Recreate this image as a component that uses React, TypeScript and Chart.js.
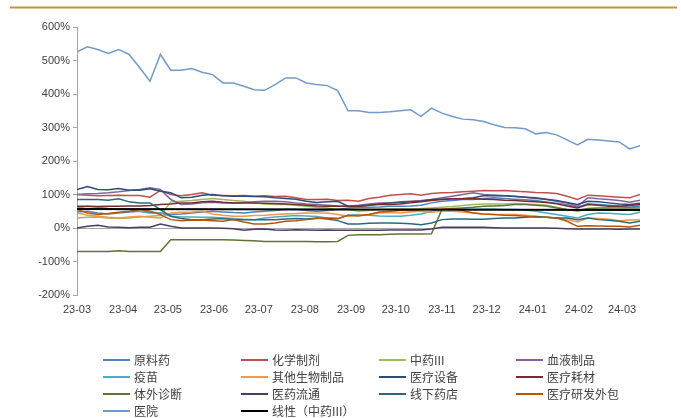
import React, { useEffect, useRef } from 'react';
import { Chart, registerables } from 'chart.js';

Chart.register(...registerables);

// 月份刻度（距 23-03 首日的天数）
const monthDays = [0, 31, 61, 92, 122, 153, 184, 214, 245, 275, 306, 337, 366];
const monthLabels = ['23-03', '23-04', '23-05', '23-06', '23-07', '23-08', '23-09', '23-10', '23-11', '23-12', '24-01', '24-02', '24-03'];

// 周度数据，55 个点
const yuanliaoyao = [48, 50, 45, 42, 45, 48, 50, 45, 45, 40, 42, 45, 48, 50, 48, 46, 45, 48, 50, 52, 55, 55, 52, 50, 52, 55, 60, 62, 62, 63, 65, 65, 66, 68, 75, 80, 82, 85, 85, 88, 90, 88, 86, 84, 82, 78, 74, 70, 62, 72, 70, 68, 66, 62, 66];
const huaxuezhiji = [100, 98, 96, 97, 98, 97, 97, 92, 112, 100, 96, 100, 105, 98, 97, 96, 97, 95, 96, 94, 95, 90, 85, 85, 86, 82, 83, 80, 88, 92, 98, 100, 102, 98, 103, 105, 106, 108, 110, 112, 111, 112, 110, 108, 106, 105, 103, 95, 85, 98, 96, 94, 92, 90, 100];
const zhongyao = [30, 32, 33, 30, 28, 30, 33, 35, 37, 78, 80, 82, 85, 88, 85, 82, 80, 75, 72, 70, 70, 68, 65, 62, 60, 55, 55, 50, 52, 55, 56, 57, 57, 58, 60, 62, 64, 67, 70, 72, 72, 72, 73, 72, 70, 68, 62, 55, 50, 56, 55, 55, 54, 53, 52];
const xueye = [100, 102, 103, 105, 108, 112, 115, 120, 115, 85, 70, 72, 75, 77, 75, 75, 76, 78, 80, 80, 78, 75, 72, 70, 68, 66, 65, 68, 72, 75, 75, 78, 80, 82, 85, 90, 95, 100, 105, 100, 98, 96, 95, 92, 88, 85, 80, 75, 65, 90, 87, 85, 82, 77, 83];
const yimiao = [60, 65, 62, 58, 55, 55, 50, 48, 45, 35, 33, 33, 32, 32, 30, 28, 26, 25, 30, 33, 35, 37, 36, 34, 30, 28, 38, 40, 38, 36, 35, 35, 38, 42, 50, 55, 55, 56, 56, 57, 57, 55, 55, 54, 50, 45, 40, 35, 30, 40, 45, 44, 42, 40, 47];
const qitashengwu = [45, 38, 35, 32, 30, 33, 35, 32, 30, 45, 47, 48, 50, 42, 38, 35, 35, 37, 38, 40, 42, 43, 45, 45, 45, 40, 35, 38, 40, 45, 46, 45, 48, 50, 47, 50, 50, 48, 45, 42, 40, 40, 40, 38, 35, 32, 30, 25, 18, 30, 28, 26, 22, 24, 25];
const yiliaoshebei = [115, 124, 115, 114, 118, 113, 113, 117, 110, 105, 90, 92, 98, 100, 96, 95, 95, 94, 93, 90, 88, 86, 80, 76, 78, 80, 65, 65, 68, 72, 75, 76, 78, 80, 85, 86, 87, 88, 90, 96, 97, 96, 94, 92, 90, 86, 82, 76, 70, 80, 78, 75, 72, 70, 74];
const yiliaohaocai = [65, 65, 64, 65, 65, 66, 66, 67, 70, 72, 75, 75, 78, 80, 77, 75, 75, 75, 74, 73, 72, 70, 68, 66, 65, 65, 65, 65, 68, 70, 70, 72, 75, 78, 82, 85, 87, 87, 87, 86, 85, 83, 82, 80, 78, 76, 72, 66, 60, 70, 68, 65, 65, 67, 70];
const tiwaizhenduan = [-70, -70, -70, -70, -68, -70, -70, -70, -70, -35, -35, -35, -35, -35, -35, -36, -37, -38, -40, -40, -40, -40, -40, -41, -41, -40, -22, -20, -20, -20, -19, -18, -18, -18, -17, 55, 58, 60, 62, 65, 66, 67, 70, 70, 68, 66, 60, 55, 52, 58, 60, 60, 60, 60, 60];
const yiyaoliutong = [0, 5, 8, 3, 2, 1, 2, 2, 12, 5, 0, 0, 0, 0, -1, -2, -7, -4, -3, -6, -7, -5, -6, -7, -6, -7, -7, -7, -7, -7, -6, -6, -6, -6, -3, 2, 2, 2, 2, 2, 1, 0, 0, 0, 0, 0, -1, -2, -3, -3, -3, -3, -4, -3, -3];
const xianxiayaodian = [85, 85, 85, 83, 87, 78, 75, 75, 55, 35, 28, 25, 25, 27, 28, 25, 25, 25, 25, 25, 27, 28, 27, 30, 27, 22, 12, 12, 14, 15, 15, 14, 13, 10, 15, 25, 27, 27, 26, 26, 28, 30, 30, 32, 34, 32, 30, 30, 25, 30, 25, 23, 20, 15, 20];
const yanfawaibao = [55, 45, 40, 43, 47, 50, 55, 50, 40, 25, 22, 23, 24, 22, 20, 25, 18, 12, 12, 15, 20, 22, 25, 28, 30, 28, 38, 36, 40, 48, 50, 52, 52, 55, 56, 56, 57, 52, 45, 42, 40, 38, 37, 35, 32, 32, 30, 20, 5, 7, 6, 5, 5, 3, 8];
const yiyuan = [526, 541, 533, 521, 533, 518, 479, 438, 518, 471, 471, 476, 465, 458, 433, 433, 423, 413, 411, 428, 448, 448, 433, 428, 425, 410, 350, 350, 345, 345, 347, 350, 353, 333, 358, 343, 333, 325, 323, 318, 308, 300, 299, 296, 281, 285, 278, 263, 248, 265, 263, 260, 257, 236, 246];
// 线性趋势线（中药III）两端
const trendStart = 57;
const trendEnd = 54;
const lastDay = 378;

const seriesNames = ['原料药', '化学制剂', '中药III', '血液制品', '疫苗', '其他生物制品', '医疗设备', '医疗耗材', '体外诊断', '医药流通', '线下药店', '医疗研发外包', '医院', '线性（中药III）'];
const seriesData = [yuanliaoyao, huaxuezhiji, zhongyao, xueye, yimiao, qitashengwu, yiliaoshebei, yiliaohaocai, tiwaizhenduan, yiyaoliutong, xianxiayaodian, yanfawaibao, yiyuan];
const colors = ['#4F81BD', '#C0504D', '#9BBB59', '#8064A2', '#4BACC6', '#F79646', '#2C4D75', '#772C2A', '#5F7530', '#4D3B62', '#276A7C', '#B65708', '#729ACA', '#000000'];

const tickFont = { family: '"Liberation Sans", Arial, sans-serif', size: 11 };
const legendCols = [103, 241, 379, 516];
const legendRows = [360, 377, 394, 411];

const decorPlugin = {
  id: 'decor',
  beforeDraw(chart: any) {
    const ctx = chart.ctx;
    ctx.save();
    ctx.fillStyle = '#C8913A';
    ctx.fillRect(10, 6.5, 667, 2);
    ctx.restore();
  },
  afterDraw(chart: any) {
    const ctx = chart.ctx;
    ctx.save();
    ctx.font = '12px "Noto Sans CJK SC", sans-serif';
    ctx.textBaseline = 'middle';
    chart.data.datasets.forEach((ds: any, i: number) => {
      const x = legendCols[i % 4];
      const y = legendRows[Math.floor(i / 4)];
      ctx.strokeStyle = ds.borderColor;
      ctx.lineWidth = 2;
      ctx.beginPath();
      ctx.moveTo(x, y);
      ctx.lineTo(x + 27, y);
      ctx.stroke();
      ctx.fillStyle = '#404040';
      ctx.fillText(ds.label, x + 31, y);
    });
    ctx.restore();
  },
};

export default function App() {
  const canvasRef = useRef<HTMLCanvasElement>(null);

  useEffect(() => {
    document.body.style.margin = '0';
    if (!canvasRef.current) return;

    const datasets: any[] = seriesData.map((vals, i) => ({
      label: seriesNames[i],
      data: vals.map((v, k) => ({ x: k * 7, y: v })),
      borderColor: colors[i],
      borderWidth: 1.5,
      order: 30 - i,
    }));
    datasets.push({
      label: seriesNames[13],
      data: [{ x: 0, y: trendStart }, { x: lastDay, y: trendEnd }],
      borderColor: colors[13],
      borderWidth: 2,
      order: 0,
    });

    const chart = new Chart(canvasRef.current, {
      type: 'line',
      data: { datasets },
      plugins: [decorPlugin],
      options: {
        animation: false,
        responsive: false,
        layout: { padding: { top: 27, right: 41, left: 0, bottom: 0 } },
        elements: { point: { radius: 0 }, line: { tension: 0 } },
        plugins: { legend: { display: false }, tooltip: { enabled: false } },
        scales: {
          x: {
            type: 'linear',
            min: 0,
            max: lastDay,
            afterFit: (s: any) => { s.height = 123; },
            afterBuildTicks: (s: any) => { s.ticks = monthDays.map((v) => ({ value: v })); },
            ticks: {
              autoSkip: false,
              maxRotation: 0,
              padding: 8,
              font: tickFont,
              color: '#404040',
              callback: (_v: any, idx: number) => monthLabels[idx],
            },
            grid: { display: false, drawTicks: false },
            border: { display: false },
          },
          y: {
            min: -200,
            max: 600,
            afterFit: (s: any) => { s.width = 77; },
            ticks: {
              stepSize: 100,
              padding: 3,
              font: tickFont,
              color: '#404040',
              callback: (v: any) => v + '%',
            },
            grid: {
              color: (c: any) => (c.tick && c.tick.value === 0 ? '#A6A6A6' : 'transparent'),
              tickColor: '#A6A6A6',
              tickLength: 4,
            },
            border: { display: true, color: '#A6A6A6' },
          },
        },
      },
    });

    return () => chart.destroy();
  }, []);

  return (
    <div style={{ width: 681, height: 418, position: 'relative', background: '#fff' }}>
      <canvas ref={canvasRef} width={681} height={418} />
    </div>
  );
}
